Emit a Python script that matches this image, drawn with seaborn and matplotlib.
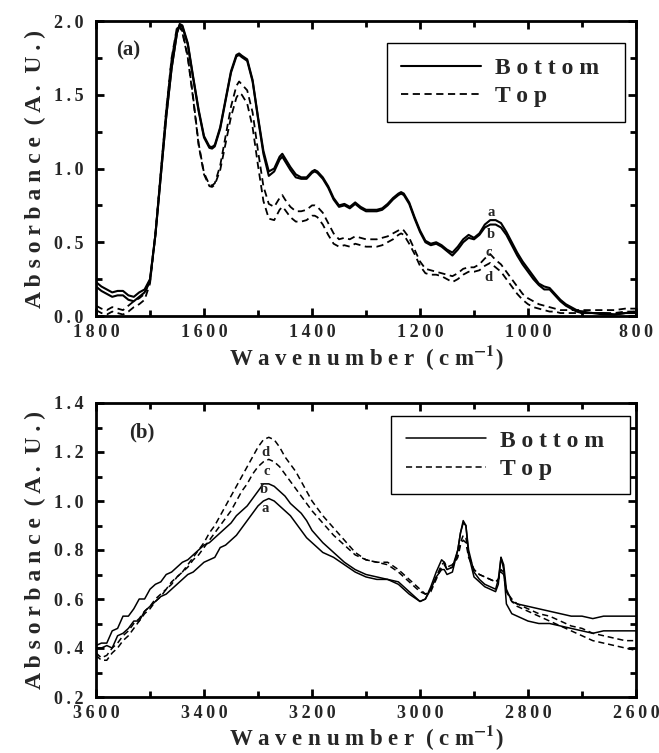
import numpy as np
import pandas as pd
import matplotlib
matplotlib.use("Agg")
import matplotlib.pyplot as plt
import seaborn as sns
from matplotlib.ticker import MultipleLocator, FuncFormatter
from matplotlib.lines import Line2D

# ---------------- data: panel (a) ----------------
wn_a = [1800, 1790, 1780, 1770, 1760, 1750, 1740, 1730, 1720, 1710, 1700, 1690, 1680, 1670, 1660,
        1650, 1645, 1640, 1630, 1620, 1610, 1600, 1590, 1585, 1580, 1570, 1560, 1550, 1540, 1535,
        1530, 1520, 1510, 1500, 1490, 1480, 1470, 1460, 1455, 1450, 1440, 1430, 1420, 1410, 1400,
        1395, 1390, 1380, 1370, 1360, 1350, 1340, 1330, 1320, 1310, 1300, 1290, 1280, 1270, 1260,
        1250, 1240, 1235, 1230, 1220, 1210, 1200, 1190, 1180, 1170, 1160, 1150, 1140, 1130, 1120,
        1110, 1100, 1090, 1080, 1070, 1060, 1050, 1040, 1030, 1020, 1010, 1000, 990, 980, 970,
        960, 950, 940, 930, 920, 910, 900, 880, 860, 840, 820, 800]

a_curve_a = [0.23, 0.20, 0.18, 0.16, 0.17, 0.17, 0.14, 0.13, 0.16, 0.18, 0.25, 0.55, 0.95, 1.35, 1.68,
             1.92, 1.98, 1.97, 1.85, 1.62, 1.40, 1.22, 1.15, 1.145, 1.16, 1.28, 1.47, 1.66, 1.77, 1.78,
             1.765, 1.74, 1.60, 1.35, 1.12, 0.98, 1.00, 1.08, 1.10, 1.07, 1.01, 0.96, 0.94, 0.94, 0.98,
             0.99, 0.98, 0.94, 0.88, 0.80, 0.75, 0.76, 0.74, 0.77, 0.74, 0.72, 0.72, 0.72, 0.73, 0.76,
             0.80, 0.83, 0.84, 0.83, 0.77, 0.67, 0.58, 0.51, 0.49, 0.50, 0.48, 0.45, 0.43, 0.47, 0.52,
             0.55, 0.53, 0.56, 0.62, 0.65, 0.65, 0.63, 0.57, 0.50, 0.43, 0.37, 0.32, 0.27, 0.22, 0.20,
             0.19, 0.15, 0.11, 0.08, 0.06, 0.04, 0.03, 0.02, 0.02, 0.01, 0.02, 0.03]

a_curve_b = [0.20, 0.17, 0.15, 0.13, 0.14, 0.14, 0.11, 0.10, 0.13, 0.16, 0.24, 0.55, 0.95, 1.35, 1.68,
             1.92, 1.97, 1.96, 1.84, 1.61, 1.39, 1.21, 1.14, 1.135, 1.15, 1.27, 1.46, 1.65, 1.76, 1.77,
             1.755, 1.73, 1.59, 1.34, 1.10, 0.95, 0.98, 1.06, 1.08, 1.05, 0.99, 0.94, 0.93, 0.93, 0.97,
             0.98, 0.97, 0.93, 0.87, 0.79, 0.74, 0.75, 0.73, 0.76, 0.73, 0.71, 0.71, 0.71, 0.72, 0.75,
             0.79, 0.82, 0.83, 0.82, 0.76, 0.66, 0.57, 0.50, 0.48, 0.49, 0.47, 0.44, 0.41, 0.45, 0.50,
             0.53, 0.52, 0.55, 0.60, 0.62, 0.62, 0.60, 0.55, 0.48, 0.41, 0.35, 0.30, 0.25, 0.21, 0.18,
             0.18, 0.14, 0.10, 0.07, 0.05, 0.03, 0.02, 0.02, 0.01, 0.01, 0.02, 0.02]

a_curve_c = [0.07, 0.05, 0.04, 0.06, 0.05, 0.04, 0.07, 0.10, 0.12, 0.15, 0.24, 0.56, 0.98, 1.40, 1.75,
             1.96, 1.97, 1.93, 1.76, 1.48, 1.17, 0.97, 0.89, 0.885, 0.90, 1.02, 1.22, 1.42, 1.56, 1.59,
             1.57, 1.53, 1.38, 1.12, 0.88, 0.76, 0.74, 0.80, 0.82, 0.79, 0.74, 0.71, 0.71, 0.72, 0.75,
             0.75, 0.74, 0.70, 0.63, 0.56, 0.52, 0.53, 0.52, 0.54, 0.53, 0.52, 0.52, 0.52, 0.53, 0.54,
             0.56, 0.58, 0.59, 0.58, 0.53, 0.45, 0.37, 0.32, 0.31, 0.30, 0.29, 0.28, 0.27, 0.29, 0.32,
             0.33, 0.33, 0.35, 0.39, 0.42, 0.38, 0.35, 0.30, 0.25, 0.20, 0.15, 0.12, 0.10, 0.08, 0.07,
             0.06, 0.05, 0.04, 0.04, 0.04, 0.04, 0.04, 0.04, 0.04, 0.04, 0.05, 0.05]

a_curve_d = [0.04, 0.02, 0.01, 0.03, 0.02, 0.01, 0.03, 0.06, 0.08, 0.11, 0.22, 0.55, 0.97, 1.39, 1.74,
             1.95, 1.96, 1.92, 1.75, 1.47, 1.16, 0.96, 0.88, 0.875, 0.89, 0.99, 1.17, 1.35, 1.48, 1.51,
             1.50, 1.44, 1.28, 1.02, 0.78, 0.66, 0.65, 0.72, 0.74, 0.72, 0.67, 0.64, 0.64, 0.65, 0.68,
             0.68, 0.67, 0.62, 0.55, 0.49, 0.47, 0.48, 0.47, 0.49, 0.48, 0.47, 0.47, 0.47, 0.48, 0.50,
             0.52, 0.55, 0.56, 0.55, 0.49, 0.42, 0.34, 0.29, 0.28, 0.28, 0.27, 0.25, 0.23, 0.25, 0.28,
             0.30, 0.30, 0.31, 0.34, 0.36, 0.33, 0.30, 0.25, 0.20, 0.15, 0.11, 0.08, 0.06, 0.05, 0.04,
             0.03, 0.03, 0.02, 0.02, 0.02, 0.02, 0.02, 0.02, 0.02, 0.02, 0.03, 0.03]

# ---------------- data: panel (b) ----------------
wn_b = [3600, 3590, 3580, 3570, 3560, 3550, 3540, 3530, 3520, 3510, 3500, 3490, 3480, 3470, 3460,
        3450, 3440, 3430, 3420, 3410, 3400, 3390, 3380, 3370, 3360, 3350, 3340, 3330, 3320, 3310,
        3300, 3290, 3280, 3270, 3260, 3250, 3240, 3230, 3220, 3210, 3200, 3180, 3160, 3140, 3120,
        3100, 3080, 3060, 3040, 3020, 3000, 2990, 2980, 2970, 2960, 2955, 2950, 2940, 2930, 2925,
        2920, 2915, 2910, 2900, 2890, 2880, 2870, 2860, 2855, 2850, 2845, 2840, 2830, 2820, 2800,
        2780, 2760, 2740, 2720, 2700, 2680, 2660, 2640, 2620, 2600]

b_curve_a = [0.40, 0.40, 0.41, 0.40, 0.45, 0.46, 0.48, 0.51, 0.51, 0.55, 0.57, 0.59, 0.61, 0.62, 0.64,
             0.66, 0.68, 0.70, 0.71, 0.73, 0.75, 0.76, 0.77, 0.81, 0.82, 0.84, 0.86, 0.89, 0.92, 0.95,
             0.98, 1.00, 1.01, 1.00, 0.98, 0.96, 0.94, 0.91, 0.88, 0.85, 0.83, 0.79, 0.77, 0.74, 0.71,
             0.69, 0.68, 0.68, 0.66, 0.62, 0.59, 0.60, 0.65, 0.71, 0.76, 0.75, 0.72, 0.73, 0.80, 0.87,
             0.91, 0.90, 0.80, 0.71, 0.68, 0.66, 0.65, 0.64, 0.68, 0.77, 0.74, 0.64, 0.59, 0.58, 0.57,
             0.56, 0.55, 0.54, 0.53, 0.53, 0.52, 0.53, 0.53, 0.53, 0.53]

b_curve_b = [0.41, 0.42, 0.42, 0.47, 0.48, 0.53, 0.53, 0.56, 0.60, 0.60, 0.64, 0.66, 0.67, 0.70, 0.71,
             0.73, 0.75, 0.76, 0.78, 0.80, 0.82, 0.83, 0.85, 0.87, 0.89, 0.91, 0.94, 0.96, 0.98, 1.01,
             1.04, 1.07, 1.07, 1.06, 1.04, 1.02, 0.99, 0.97, 0.95, 0.92, 0.88, 0.83, 0.79, 0.75, 0.72,
             0.70, 0.69, 0.68, 0.67, 0.63, 0.59, 0.60, 0.64, 0.69, 0.72, 0.72, 0.70, 0.71, 0.80, 0.87,
             0.92, 0.90, 0.78, 0.69, 0.67, 0.65, 0.64, 0.63, 0.66, 0.77, 0.72, 0.58, 0.54, 0.53, 0.51,
             0.50, 0.50, 0.49, 0.48, 0.47, 0.46, 0.47, 0.47, 0.47, 0.47]

b_curve_c = [0.38, 0.36, 0.37, 0.40, 0.42, 0.45, 0.47, 0.50, 0.52, 0.55, 0.57, 0.60, 0.62, 0.64, 0.67,
             0.69, 0.71, 0.73, 0.76, 0.78, 0.81, 0.84, 0.87, 0.90, 0.93, 0.96, 1.00, 1.04, 1.07, 1.11,
             1.14, 1.16, 1.17, 1.16, 1.14, 1.11, 1.08, 1.05, 1.02, 0.99, 0.96, 0.91, 0.86, 0.82, 0.78,
             0.76, 0.75, 0.74, 0.71, 0.67, 0.63, 0.62, 0.64, 0.69, 0.74, 0.75, 0.73, 0.74, 0.78, 0.83,
             0.86, 0.85, 0.78, 0.72, 0.70, 0.69, 0.68, 0.67, 0.68, 0.72, 0.71, 0.63, 0.60, 0.58, 0.56,
             0.54, 0.53, 0.51, 0.49, 0.48, 0.46, 0.45, 0.44, 0.43, 0.43]

b_curve_d = [0.37, 0.35, 0.35, 0.38, 0.40, 0.43, 0.45, 0.48, 0.51, 0.54, 0.56, 0.59, 0.61, 0.64, 0.66,
             0.69, 0.71, 0.74, 0.77, 0.80, 0.83, 0.87, 0.90, 0.94, 0.98, 1.02, 1.06, 1.10, 1.14, 1.18,
             1.22, 1.25, 1.26, 1.25, 1.22, 1.18, 1.15, 1.12, 1.08, 1.04, 1.00, 0.94, 0.89, 0.84, 0.79,
             0.76, 0.75, 0.75, 0.72, 0.68, 0.64, 0.62, 0.63, 0.68, 0.73, 0.74, 0.72, 0.73, 0.77, 0.82,
             0.84, 0.83, 0.77, 0.72, 0.70, 0.69, 0.68, 0.67, 0.68, 0.71, 0.70, 0.63, 0.59, 0.57, 0.55,
             0.53, 0.51, 0.49, 0.47, 0.45, 0.43, 0.42, 0.41, 0.40, 0.39]

legend_labels = ["Bottom", "Top"]
curve_letters = ["a", "b", "c", "d"]
# label anchor positions (wavenumber, absorbance) for the a-d letters
a_letter_pos = [(1069, 0.70), (1069, 0.55), (1072, 0.43), (1074, 0.26)]
b_letter_pos = [(3287, 0.97), (3290, 1.045), (3284, 1.12), (3286, 1.20)]

# ---------------- style ----------------
sns.set_style("ticks")
plt.rcParams["font.family"] = ["Liberation Serif", "DejaVu Serif"]
plt.rcParams["font.weight"] = "bold"
plt.rcParams["mathtext.fontset"] = "stix"

THIN = "\u2009"

def spaced(s, sep=" "):
    return sep.join(s)

def fmt_x(v, pos):
    return spaced(f"{v:.0f}", THIN)

def fmt_y1(v, pos):
    return spaced(f"{v:.1f}", THIN)

fig = plt.figure(figsize=(6.59, 7.53), dpi=100)
ax_a = fig.add_axes([96/659, 1-316/753, 540/659, 295/753])
ax_b = fig.add_axes([96/659, 1-697/753, 540/659, 294/753])

def style_axes(ax, xmaj, xmin, ymaj, ymin):
    for sp in ax.spines.values():
        sp.set_linewidth(2.0)
        sp.set_color("black")
    ax.xaxis.set_major_locator(MultipleLocator(xmaj))
    ax.xaxis.set_minor_locator(MultipleLocator(xmin))
    ax.yaxis.set_major_locator(MultipleLocator(ymaj))
    ax.yaxis.set_minor_locator(MultipleLocator(ymin))
    ax.tick_params(which="both", direction="in", top=True, right=True, color="black")
    ax.tick_params(which="major", length=6, width=2.0)
    ax.tick_params(which="minor", length=4, width=2.0)
    ax.tick_params(axis="x", which="major", pad=6, labelsize=13)
    ax.tick_params(axis="y", which="major", pad=9, labelsize=13)
    ax.xaxis.set_major_formatter(FuncFormatter(fmt_x))
    ax.yaxis.set_major_formatter(FuncFormatter(fmt_y1))
    for lab in ax.get_xticklabels() + ax.get_yticklabels():
        lab.set_fontweight("bold")

def draw_panel(ax, wn, curves, lw_solid, lw_dash):
    styles = ["-", "-", "--", "--"]
    for y, ls in zip(curves, styles):
        lw = lw_solid if ls == "-" else lw_dash
        sns.lineplot(x=wn, y=y, ax=ax, color="black", lw=lw, sort=False,
                     estimator=None, linestyle=ls, dashes=False)
        if ls == "--":
            ax.lines[-1].set_dashes((4, 2.5))

# panel (a)
draw_panel(ax_a, wn_a, [a_curve_a, a_curve_b, a_curve_c, a_curve_d], 1.5, 1.3)
ax_a.set_xlim(1800, 800)
ax_a.set_ylim(0.0, 2.0)
style_axes(ax_a, 200, 100, 0.5, 0.25)

# panel (b)
draw_panel(ax_b, wn_b, [b_curve_a, b_curve_b, b_curve_c, b_curve_d], 1.1, 1.1)
ax_b.set_xlim(3600, 2600)
ax_b.set_ylim(0.2, 1.4)
style_axes(ax_b, 200, 100, 0.2, 0.1)

ylab = spaced("Absorbance") + "  " + spaced("(A.") + "  " + spaced("U.)")
xlab = spaced("Wavenumber") + "  ( c m$^{\\mathbf{-1}}$)"
for ax in (ax_a, ax_b):
    ax.set_ylabel(ylab, fontsize=17, fontweight="bold", va="center")
    ax.yaxis.set_label_coords(-0.113, 0.5)
    ax.set_xlabel(xlab, fontsize=16.5, fontweight="bold", va="center")
ax_a.xaxis.set_label_coords(0.5, -0.140)
ax_b.xaxis.set_label_coords(0.5, -0.137)

ax_a.text(1741, 1.80, "(a)", fontsize=15, fontweight="bold", ha="center", va="center")
ax_b.text(3515, 1.28, "(b)", fontsize=15, fontweight="bold", ha="center", va="center")

for (x, y), t in zip(a_letter_pos, curve_letters):
    ax_a.text(x, y, t, fontsize=10.5, fontweight="bold", ha="center", va="center")
for (x, y), t in zip(b_letter_pos, curve_letters):
    ax_b.text(x, y, t, fontsize=10.5, fontweight="bold", ha="center", va="center")

def add_legend(ax, anchor, lw_s, lw_d):
    handles = [Line2D([0], [0], color="black", lw=lw_s, ls="-"),
               Line2D([0], [0], color="black", lw=lw_d, dashes=(4, 2.5))]
    leg = ax.legend(handles, [spaced(s) + "  " for s in legend_labels], loc="upper right",
                    bbox_to_anchor=anchor, frameon=True, fancybox=False,
                    edgecolor="black", framealpha=1, handlelength=3.4,
                    handletextpad=0.6, labelspacing=0.3, borderpad=0.6,
                    borderaxespad=0.0, prop={"weight": "bold", "size": 17})
    leg.get_frame().set_linewidth(1.0)

add_legend(ax_a, (0.98, 0.925), 1.5, 1.3)
add_legend(ax_b, (0.989, 0.956), 1.1, 1.1)

fig.savefig("out.png", dpi=100, facecolor="white")
